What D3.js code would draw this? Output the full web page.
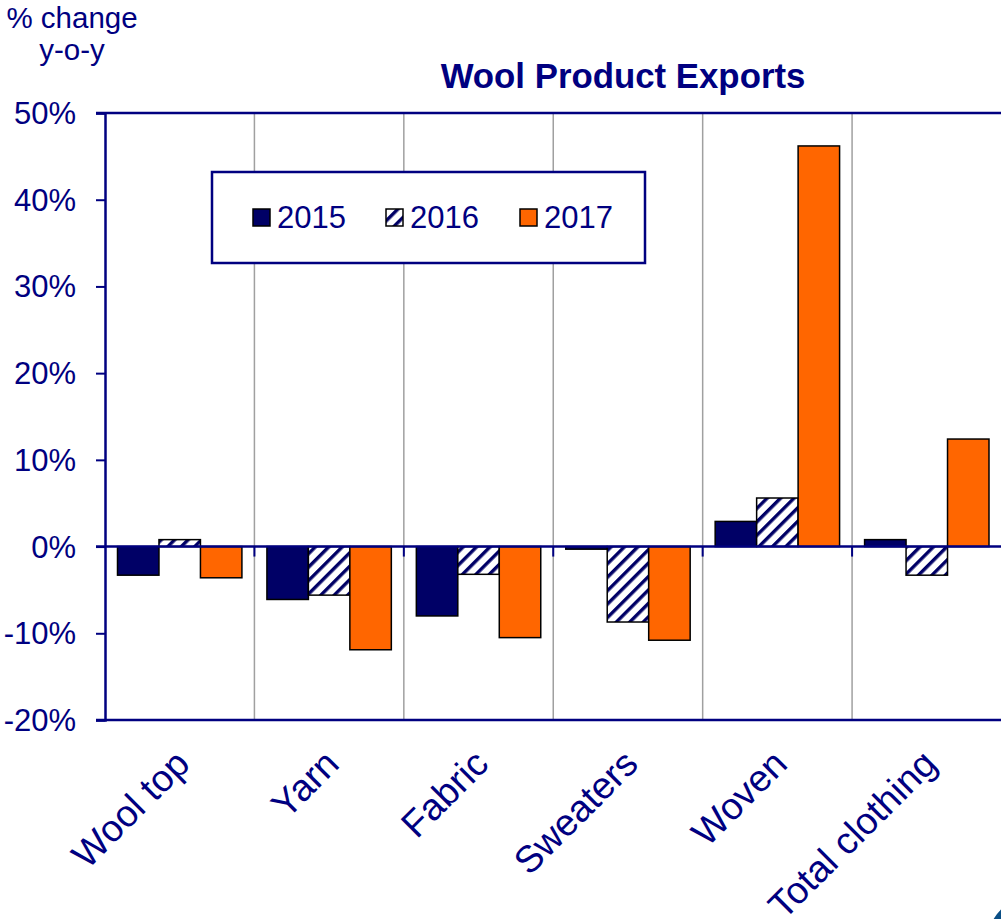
<!DOCTYPE html>
<html>
<head>
<meta charset="utf-8">
<script src="https://cdn.jsdelivr.net/npm/d3@7"></script>
<style>
  html, body { margin: 0; padding: 0; background: #fff; }
  svg { display: block; font-family: "Liberation Sans", Arial, sans-serif; }
</style>
</head>
<body>
<svg id="chart" width="1001" height="919"></svg>
<script>
// Year-on-year % change in wool product exports
const categories = ["Wool top", "Yarn", "Fabric", "Sweaters", "Woven", "Total clothing"];
const years = ["2015", "2016", "2017"];
const values2015 = [-3.3, -6.1, -8.0, -0.3, 2.9, 0.8];
const values2016 = [0.8, -5.6, -3.2, -8.7, 5.6, -3.3];
const values2017 = [-3.6, -11.9, -10.5, -10.8, 46.2, 12.4];
const yTicks = [-20, -10, 0, 10, 20, 30, 40, 50];

const NAVY = "#000080";
const seriesValues = [values2015, values2016, values2017];
const seriesFill = ["#000066", "url(#hatch)", "#ff6600"];

const svg = d3.select("#chart");

// diagonal hatch for the 2016 bars
const defs = svg.append("defs");
const pat = defs.append("pattern")
  .attr("id", "hatch")
  .attr("patternUnits", "userSpaceOnUse")
  .attr("width", 9.5).attr("height", 9.5)
  .attr("patternTransform", "rotate(45)");
pat.append("rect").attr("width", 9.5).attr("height", 9.5).attr("fill", "#fff");
pat.append("rect").attr("x", 0).attr("y", 0).attr("width", 3.4).attr("height", 9.5).attr("fill", "#000066");

const plotLeft = 105, plotRight = 1001.5, plotTop = 113, plotBottom = 720;

const x = d3.scaleBand().domain(categories).range([plotLeft, plotRight]).paddingInner(0).paddingOuter(0);
const xInner = d3.scaleBand().domain(years).range([12.5, x.bandwidth() - 12.5]).padding(0);
const y = d3.scaleLinear().domain([-20, 50]).range([plotBottom, plotTop]);

// vertical separators between categories
svg.append("g").selectAll("line")
  .data(categories.slice(1))
  .join("line")
  .attr("x1", d => x(d)).attr("x2", d => x(d))
  .attr("y1", plotTop).attr("y2", plotBottom)
  .attr("stroke", "#a0a0a0").attr("stroke-width", 1.5);

// bars
const rows = [];
categories.forEach((c, i) => {
  years.forEach((yr, j) => rows.push({ c, yr, j, v: seriesValues[j][i] }));
});
svg.append("g").selectAll("rect")
  .data(rows)
  .join("rect")
  .attr("x", d => x(d.c) + xInner(d.yr))
  .attr("width", xInner.bandwidth())
  .attr("y", d => y(Math.max(0, d.v)))
  .attr("height", d => Math.abs(y(d.v) - y(0)))
  .attr("fill", d => seriesFill[d.j])
  .attr("stroke", "#000")
  .attr("stroke-width", 1.5);

// top and bottom frame lines
[50, -20].forEach(v => {
  svg.append("line")
    .attr("x1", plotLeft - 9).attr("x2", 1001)
    .attr("y1", y(v)).attr("y2", y(v))
    .attr("stroke", NAVY).attr("stroke-width", 2.5);
});

// zero line with category tick marks below it
svg.append("line")
  .attr("x1", plotLeft - 9).attr("x2", 1001)
  .attr("y1", y(0)).attr("y2", y(0))
  .attr("stroke", NAVY).attr("stroke-width", 2.5);
svg.append("g").selectAll("line")
  .data(categories.slice(1))
  .join("line")
  .attr("x1", d => x(d)).attr("x2", d => x(d))
  .attr("y1", y(0)).attr("y2", y(0) + 10)
  .attr("stroke", NAVY).attr("stroke-width", 2);

// y axis
const yAxis = d3.axisLeft(y)
  .tickValues(yTicks)
  .tickSize(9)
  .tickPadding(20)
  .tickFormat(d => d + "%");
const yg = svg.append("g").attr("transform", `translate(${plotLeft},0)`).call(yAxis);
yg.select(".domain").attr("stroke", NAVY).attr("stroke-width", 2.5);
yg.selectAll(".tick line").attr("stroke", NAVY).attr("stroke-width", 2);
yg.selectAll(".tick text")
  .attr("fill", NAVY)
  .attr("font-size", 31)
  .attr("font-family", "Liberation Sans, Arial, sans-serif")
  .attr("dy", "0.34em");

// category labels
svg.append("g").selectAll("text")
  .data(categories)
  .join("text")
  .attr("transform", d => `translate(${x(d) + x.bandwidth() / 2 + 12},766) rotate(-45)`)
  .attr("text-anchor", "end")
  .attr("fill", NAVY)
  .attr("font-size", 37.5)
  .text(d => d);

// titles
svg.append("text")
  .attr("x", 623).attr("y", 88)
  .attr("text-anchor", "middle")
  .attr("fill", NAVY)
  .attr("font-size", 34.8)
  .attr("font-weight", "bold")
  .text("Wool Product Exports");
svg.append("text")
  .attr("x", 72).attr("y", 28)
  .attr("text-anchor", "middle")
  .attr("fill", NAVY).attr("font-size", 29.5)
  .text("% change");
svg.append("text")
  .attr("x", 72).attr("y", 60)
  .attr("text-anchor", "middle")
  .attr("fill", NAVY).attr("font-size", 29.5)
  .text("y-o-y");

// legend
const lg = svg.append("g");
lg.append("rect")
  .attr("x", 212).attr("y", 172).attr("width", 433).attr("height", 91)
  .attr("fill", "#fff").attr("stroke", NAVY).attr("stroke-width", 2.5);
const legendX = [253, 386, 520];
years.forEach((yr, j) => {
  lg.append("rect")
    .attr("x", legendX[j]).attr("y", 209).attr("width", 17).attr("height", 17)
    .attr("fill", seriesFill[j]).attr("stroke", "#000").attr("stroke-width", 1.5);
  lg.append("text")
    .attr("x", legendX[j] + 24).attr("y", 228)
    .attr("fill", NAVY).attr("font-size", 31)
    .text(yr);
});

// corner ornament at lower right
svg.append("circle")
  .attr("cx", 1030).attr("cy", 940).attr("r", 42)
  .attr("fill", "#0b4f86");
</script>
</body>
</html>
